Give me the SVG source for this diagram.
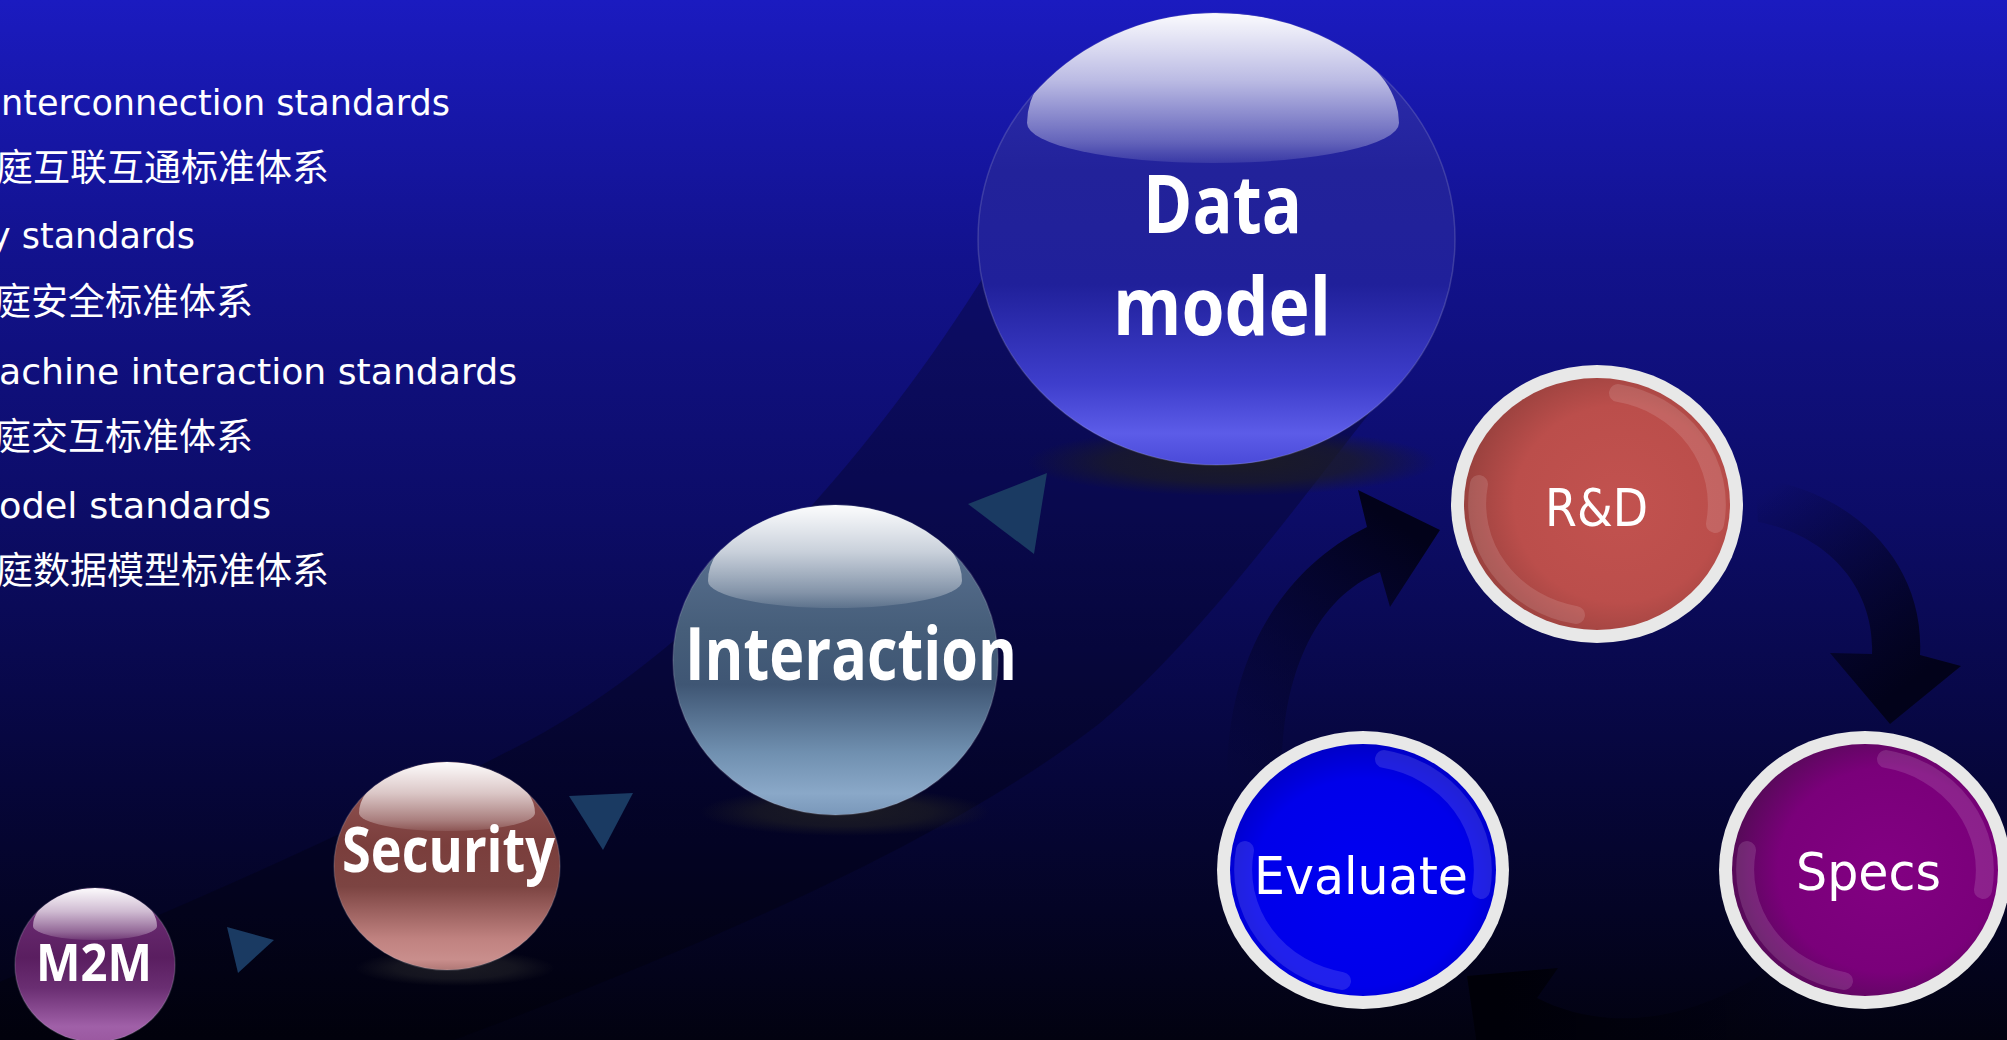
<svg xmlns="http://www.w3.org/2000/svg" width="2007" height="1040" viewBox="0 0 2007 1040">
<style>
.en{font-family:"DejaVu Sans","Liberation Sans",sans-serif;font-size:36px;fill:#ffffff}
.cjk{font-family:"Noto Sans CJK SC","Noto Sans",sans-serif;font-size:37px;fill:#ffffff}
.sph{font-family:"Open Sans","Liberation Sans",sans-serif;font-weight:bold;fill:#ffffff}
.cyc{font-family:"DejaVu Sans","Liberation Sans",sans-serif;font-size:52px;fill:#ffffff}
.tri{fill:#1a3a62}
.ring{fill:#e8e8e8}
.gloss{fill:none;stroke:#ffffff;stroke-opacity:0.13;stroke-width:18;stroke-linecap:round}
.rim{stroke:#c8c8d8;stroke-opacity:0.2;stroke-width:1.5}
.shadow{fill:url(#sh)}
.hl{fill:url(#hi)}
</style>
<defs>
<linearGradient id="bg" x1="0" y1="0" x2="0" y2="1">
<stop offset="0" stop-color="#1b1bc0"/>
<stop offset="0.25" stop-color="#12128c"/>
<stop offset="0.5" stop-color="#0c0c66"/>
<stop offset="0.75" stop-color="#06063a"/>
<stop offset="1" stop-color="#020210"/>
</linearGradient>
<radialGradient id="sh" cx="0.5" cy="0.5" r="0.5">
<stop offset="0" stop-color="#1c1c24" stop-opacity="0.95"/>
<stop offset="0.6" stop-color="#1c1c24" stop-opacity="0.7"/>
<stop offset="1" stop-color="#1c1c24" stop-opacity="0"/>
</radialGradient>
<linearGradient id="hi" x1="0" y1="0" x2="0" y2="1">
<stop offset="0" stop-color="#ffffff" stop-opacity="0.98"/>
<stop offset="0.45" stop-color="#ffffff" stop-opacity="0.68"/>
<stop offset="0.85" stop-color="#ffffff" stop-opacity="0.3"/>
<stop offset="1" stop-color="#ffffff" stop-opacity="0.1"/>
</linearGradient>
<linearGradient id="gData" x1="0" y1="0" x2="0" y2="1">
<stop offset="0" stop-color="#3030b4"/>
<stop offset="0.35" stop-color="#22229a"/>
<stop offset="0.6" stop-color="#20209a"/>
<stop offset="0.82" stop-color="#3e3ecc"/>
<stop offset="0.93" stop-color="#5c5ce8"/>
<stop offset="1" stop-color="#4a4ad8"/>
</linearGradient>
<linearGradient id="gInt" x1="0" y1="0" x2="0" y2="1">
<stop offset="0" stop-color="#62789a"/>
<stop offset="0.4" stop-color="#465e7a"/>
<stop offset="0.58" stop-color="#3f5674"/>
<stop offset="0.8" stop-color="#7090b0"/>
<stop offset="0.93" stop-color="#8aa8c8"/>
<stop offset="1" stop-color="#7a98ba"/>
</linearGradient>
<linearGradient id="gSec" x1="0" y1="0" x2="0" y2="1">
<stop offset="0" stop-color="#9a5a5a"/>
<stop offset="0.4" stop-color="#7a3e3c"/>
<stop offset="0.6" stop-color="#7c4442"/>
<stop offset="0.85" stop-color="#c08280"/>
<stop offset="0.95" stop-color="#c98e8c"/>
<stop offset="1" stop-color="#b07876"/>
</linearGradient>
<linearGradient id="gM2M" x1="0" y1="0" x2="0" y2="1">
<stop offset="0" stop-color="#72327a"/>
<stop offset="0.45" stop-color="#5a1e60"/>
<stop offset="0.65" stop-color="#6a2e72"/>
<stop offset="0.9" stop-color="#a060a8"/>
<stop offset="1" stop-color="#9a58a0"/>
</linearGradient>
<radialGradient id="gRD" cx="0.58" cy="0.5" r="0.6">
<stop offset="0" stop-color="#c2524f"/>
<stop offset="0.65" stop-color="#bb4e4b"/>
<stop offset="1" stop-color="#96403d"/>
</radialGradient>
<radialGradient id="gEv" cx="0.5" cy="0.55" r="0.55">
<stop offset="0" stop-color="#0000f2"/>
<stop offset="0.75" stop-color="#0000ea"/>
<stop offset="1" stop-color="#0000c8"/>
</radialGradient>
<radialGradient id="gSp" cx="0.58" cy="0.5" r="0.58">
<stop offset="0" stop-color="#820082"/>
<stop offset="0.7" stop-color="#7a007a"/>
<stop offset="1" stop-color="#560a58"/>
</radialGradient>
<linearGradient id="a1" gradientUnits="userSpaceOnUse" x1="1420" y1="540" x2="1245" y2="790">
<stop offset="0" stop-color="#02021a" stop-opacity="1"/>
<stop offset="0.45" stop-color="#02021a" stop-opacity="0.55"/>
<stop offset="1" stop-color="#02021a" stop-opacity="0"/>
</linearGradient>
<linearGradient id="a2" gradientUnits="userSpaceOnUse" x1="1900" y1="690" x2="1760" y2="495">
<stop offset="0" stop-color="#02021a" stop-opacity="1"/>
<stop offset="0.45" stop-color="#02021a" stop-opacity="0.55"/>
<stop offset="1" stop-color="#02021a" stop-opacity="0"/>
</linearGradient>
<linearGradient id="a3" gradientUnits="userSpaceOnUse" x1="1500" y1="1000" x2="1800" y2="990">
<stop offset="0" stop-color="#000008" stop-opacity="1"/>
<stop offset="0.5" stop-color="#000008" stop-opacity="0.5"/>
<stop offset="1" stop-color="#000008" stop-opacity="0"/>
</linearGradient>
<clipPath id="cM2M"><ellipse cx="95" cy="965" rx="80" ry="77"/></clipPath>
<clipPath id="cSec"><ellipse cx="447" cy="866" rx="113" ry="104"/></clipPath>
<clipPath id="cInt"><ellipse cx="835.5" cy="660" rx="162.5" ry="155"/></clipPath>
<clipPath id="cData"><ellipse cx="1216.5" cy="239" rx="238.5" ry="226"/></clipPath>
</defs>

<rect x="0" y="0" width="2007" height="1040" fill="url(#bg)"/>
<path d="M -20 990 Q 300 860 530 740 C 700 650 880 450 1000 250 L 1380 400 C 1300 500 1200 640 1100 723 C 950 840 700 950 400 1060 L -20 1060 Z" fill="#000000" fill-opacity="0.25"/>

<g id="legend">
<text class="en" x="1" y="115" textLength="449" lengthAdjust="spacingAndGlyphs">nterconnection standards</text>
<text class="cjk" x="329" y="181" text-anchor="end">庭互联互通标准体系</text>
<text class="en" x="-10" y="248" textLength="205" lengthAdjust="spacingAndGlyphs">y standards</text>
<text class="cjk" x="253" y="315" text-anchor="end">庭安全标准体系</text>
<text class="en" x="-1" y="384" textLength="518" lengthAdjust="spacingAndGlyphs">achine interaction standards</text>
<text class="cjk" x="253" y="450" text-anchor="end">庭交互标准体系</text>
<text class="en" x="-1" y="518" textLength="272" lengthAdjust="spacingAndGlyphs">odel standards</text>
<text class="cjk" x="329" y="584" text-anchor="end">庭数据模型标准体系</text>
</g>

<g id="connectors">
<polygon class="tri" points="227,927 274,940 238,973"/>
<polygon class="tri" points="569,796 633,793 603,850"/>
<polygon class="tri" points="968,504 1047,473 1034,554"/>
<path d="M 1228 800 C 1220 680 1270 575 1367 527 L 1358 490 L 1440 530 L 1390 607 L 1380 572 C 1310 600 1275 690 1283 800 Z" fill="url(#a1)"/>
<path d="M 1755 478 C 1850 490 1925 560 1920 655 L 1961 666 L 1890 724 L 1830 653 L 1872 654 C 1875 590 1830 535 1758 522 Z" fill="url(#a2)"/>
<path d="M 1467 976 L 1558 968 L 1537 998 C 1600 1030 1690 1030 1790 955 L 1830 1000 C 1720 1100 1580 1100 1500 1040 L 1480 1066 Z" fill="url(#a3)"/>
</g>

<g id="node-m2m">
<ellipse cx="95" cy="965" rx="80" ry="77" fill="url(#gM2M)" class="rim"/>
<path class="hl" clip-path="url(#cM2M)" d="M 33 926 A 62 38 0 0 1 157 926 A 62 14 0 0 1 33 926 Z"/>
<text class="sph" x="36" y="981" font-size="52" textLength="116" lengthAdjust="spacingAndGlyphs">M2M</text>
</g>

<g id="node-security">
<ellipse class="shadow" cx="455" cy="968" rx="100" ry="18"/>
<ellipse cx="447" cy="866" rx="113" ry="104" fill="url(#gSec)" class="rim"/>
<path class="hl" clip-path="url(#cSec)" d="M 359 813 A 88 51 0 0 1 535 813 A 88 18 0 0 1 359 813 Z"/>
<text class="sph" x="342" y="872" font-size="62" textLength="213" lengthAdjust="spacingAndGlyphs">Security</text>
</g>

<g id="node-interaction">
<ellipse class="shadow" cx="845" cy="812" rx="145" ry="24"/>
<ellipse cx="835.5" cy="660" rx="162.5" ry="155" fill="url(#gInt)" class="rim"/>
<path class="hl" clip-path="url(#cInt)" d="M 708 581 A 127 76 0 0 1 962 581 A 127 27 0 0 1 708 581 Z"/>
<text class="sph" x="685" y="680" font-size="74" textLength="332" lengthAdjust="spacingAndGlyphs">Interaction</text>
</g>

<g id="node-data-model">
<ellipse class="shadow" cx="1232" cy="462" rx="205" ry="34"/>
<ellipse cx="1216.5" cy="239" rx="238.5" ry="226" fill="url(#gData)" class="rim"/>
<path class="hl" clip-path="url(#cData)" d="M 1027 123 A 186 110 0 0 1 1399 123 A 186 40 0 0 1 1027 123 Z"/>
<text class="sph" x="1143" y="233" font-size="80" textLength="159" lengthAdjust="spacingAndGlyphs">Data</text>
<text class="sph" x="1113" y="335" font-size="80" textLength="218" lengthAdjust="spacingAndGlyphs">model</text>
</g>

<g id="node-rd">
<ellipse class="ring" cx="1597" cy="504" rx="146" ry="139"/>
<ellipse cx="1597" cy="504" rx="133" ry="126" fill="url(#gRD)"/>
<path class="gloss" d="M 1576 615 A 120 113 0 0 1 1479 484"/>
<path class="gloss" d="M 1618 393 A 120 113 0 0 1 1715 524"/>
<text class="cyc" x="1545" y="526" textLength="103" lengthAdjust="spacingAndGlyphs">R&amp;D</text>
</g>

<g id="node-evaluate">
<ellipse class="ring" cx="1363" cy="870" rx="146" ry="139"/>
<ellipse cx="1363" cy="870" rx="133" ry="126" fill="url(#gEv)"/>
<path class="gloss" d="M 1342 981 A 120 113 0 0 1 1245 850"/>
<path class="gloss" d="M 1384 759 A 120 113 0 0 1 1481 890"/>
<text class="cyc" x="1254" y="894" textLength="214" lengthAdjust="spacingAndGlyphs">Evaluate</text>
</g>

<g id="node-specs">
<ellipse class="ring" cx="1865" cy="870" rx="146" ry="139"/>
<ellipse cx="1865" cy="870" rx="133" ry="126" fill="url(#gSp)"/>
<path class="gloss" d="M 1844 981 A 120 113 0 0 1 1747 850"/>
<path class="gloss" d="M 1886 759 A 120 113 0 0 1 1983 890"/>
<text class="cyc" x="1796" y="890" textLength="145" lengthAdjust="spacingAndGlyphs">Specs</text>
</g>
</svg>
